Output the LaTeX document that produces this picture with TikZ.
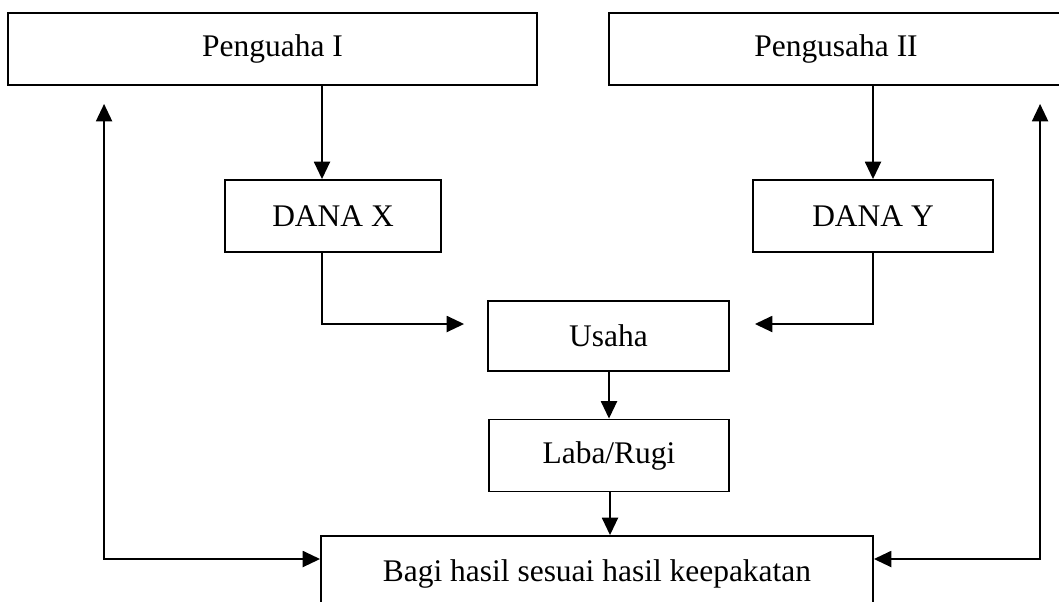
\documentclass[tikz,border=0pt]{standalone}
\usepackage{fontspec}
\setmainfont{Liberation Serif}
\usetikzlibrary{arrows.meta,calc}
\begin{document}
\begin{tikzpicture}[x=0.75pt,y=-0.75pt,line width=1.4pt,>={Triangle[length=13pt,width=12pt]},
  kotak/.style={draw,inner sep=0pt,font=\fontsize{23.6}{28}\selectfont}]
\clip (0,0) rectangle (1059,601);
\node[kotak,minimum width=396.75pt,minimum height=54pt] (p1) at (272.5,49) {Penguaha I};
\node[kotak,minimum width=340.5pt,minimum height=54pt] (p2) at (836,49) {Pengusaha II};
\node[kotak,minimum width=162pt,minimum height=54pt] (dx) at (333,216) {DANA X};
\node[kotak,minimum width=180pt,minimum height=54pt] (dy) at (873,216) {DANA Y};
\node[kotak,minimum width=180.75pt,minimum height=52.5pt] (us) at (608.5,336) {Usaha};
\node[kotak,minimum width=180pt,minimum height=54pt] (lr) at (609,455.5) {Laba/Rugi};
\node[kotak,minimum width=414pt,minimum height=57pt] (bg) at (597,574) {Bagi hasil sesuai hasil keepakatan};
\coordinate (xa) at (322,0);
\coordinate (xb) at (873,0);
\coordinate (ly) at (0,559);
% dana masuk
\draw[->] (p1.south -| xa) -- (dx.north -| xa);
\draw[->] (p2.south -| xb) -- (dy.north -| xb);
\draw[->] (dx.south -| xa) |- ($(us.west)+(-23,-12)$);
\draw[->] (dy.south -| xb) |- ($(us.east)+(25,-12)$);
\draw[->] (us.south -| 609,0) -- (lr.north -| 609,0);
\draw[->] (lr.south -| 610,0) -- (bg.north -| 610,0);
% bagi hasil
\draw[<->] (bg.west |- ly) -| ($(p1.south west)+(97,18)$);
\draw[<->] (bg.east |- ly) -| ($(p2.south west)+(432,18)$);
\end{tikzpicture}
\end{document}
